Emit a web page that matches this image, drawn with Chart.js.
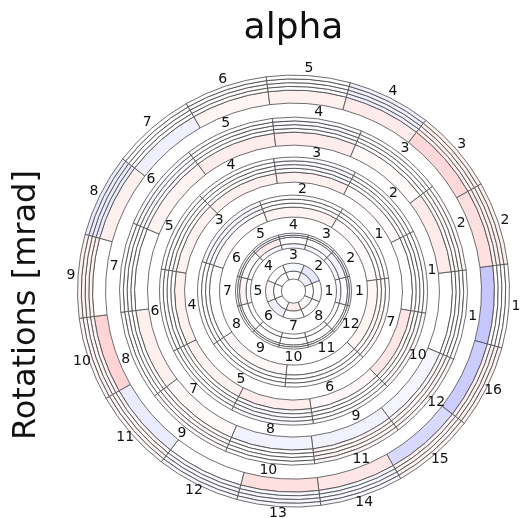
<!DOCTYPE html>
<html>
<head>
<meta charset="utf-8">
<script src="https://cdn.jsdelivr.net/npm/chart.js@4/dist/chart.umd.min.js"></script>
<style>
  html, body { margin: 0; padding: 0; background: #fff; }
</style>
</head>
<body>
<canvas id="chart" width="527" height="518"></canvas>
<script>
// Rotation residuals per module, in mrad, listed by sector number (1..n).
// Disks run from the outermost (F) to the innermost (A).
const F_band = [-0.22, 0.12, 0.15, 0.08, 0.06, 0.04, -0.06, 0.06, 0.0, 0.17, -0.08, 0.0, 0.12, 0.10, -0.15, -0.20];
const F_thin = [0.0, 0.06, 0.06, -0.06, 0.0, 0.01, 0.0, -0.08, 0.05, 0.03, 0.03, -0.03, -0.03, -0.03, 0.04, 0.05];
const E_band = [0.0, 0.08, 0.02, 0.07, 0.07, 0.05, 0.0, 0.06, 0.02, -0.05, -0.05, -0.04];
const E_thin = [0.0, 0.02, 0.0, -0.02, 0.0, -0.02, 0.0, 0.0, 0.02, 0.0, 0.03, 0.03];
const D_band = [0.0, 0.02, 0.06, 0.06, 0.05, 0.06, 0.05, 0.07, 0.03, 0.10];
const D_thin = [0.0, 0.0, -0.02, 0.0, 0.0, 0.0, 0.0, -0.02, 0.0, 0.02];
const C_band = [0.02, 0.05, 0.02, 0.0, 0.03, 0.0, 0.04];
const C_thin = [0.0, 0.0, -0.03, 0.0, 0.0, 0.0, 0.02];
const B_band = [0.0, -0.04, 0.0, 0.0, 0.08, 0.0, 0.05, 0.0, 0.0, 0.0, 0.0, 0.0];
const B_thin = [-0.03, -0.04, -0.03, -0.03, -0.03, -0.02, 0.0, 0.0, 0.0, 0.0, 0.0, 0.0];
const A_outer = [0.0, -0.10, -0.03, 0.0, 0.03, -0.06, 0.0, 0.0];
const A_inner = [0.0, -0.06, 0.0, 0.0, 0.0, 0.0, 0.08, 0.0];

// Sector numbers printed around each disk.
const F_labels = ['1','2','3','4','5','6','7','8','9','10','11','12','13','14','15','16'];
const E_labels = ['1','2','3','4','5','6','7','8','9','10','11','12'];
const D_labels = ['1','2','3','4','5','6','7','8','9','10'];
const C_labels = ['1','2','3','4','5','6','7'];
const B_labels = ['1','2','3','4','5','6','7','8','9','10','11','12'];
const A_labels = ['1','2','3','4','5','6','7','8'];

const COLOR_LIMIT = 1.0; // mrad at full saturation of the blue-white-red scale

// Angle (deg, counter-clockwise from 3 o'clock) of the centre of sector 1.
const PHASE = { F: -4, E: -8, D: 8.5, C: 33.5, B: 0, A: 0 };

function bwr(v) {
  const t = Math.max(-1, Math.min(1, v / COLOR_LIMIT));
  let r, g, b;
  if (t < 0) { r = g = 255 * (1 + t); b = 255; }
  else { r = 255; g = b = 255 * (1 - t); }
  return 'rgb(' + Math.round(r) + ',' + Math.round(g) + ',' + Math.round(b) + ')';
}

// Chart.js lays arcs clockwise; sectors are numbered counter-clockwise.
function ccw(arr) { return [arr[0]].concat(arr.slice(1).reverse()); }

function startAngle(n, phase) { return 90 - phase - 180 / n; }

const OUTER_R = 230, HOLE_R = 12;
const datasets = [];
let currentR = OUTER_R;

function addRing(values, innerR, phase) {
  datasets.push({
    data: values.map(() => 1),
    backgroundColor: ccw(values).map(bwr),
    borderColor: '#4a4a4a',
    borderWidth: 0.8,
    weight: currentR - innerR,
    rotation: startAngle(values.length, phase),
    clip: false
  });
  currentR = innerR;
}
function addThin(values, count, innerR, phase) {
  const step = (currentR - innerR) / count;
  const start = currentR;
  for (let i = 1; i <= count; i++) addRing(values, start - step * i, phase);
}
function addLabels(labels, innerR, phase) {
  datasets.push({
    data: labels.map(() => 1),
    backgroundColor: 'rgba(0,0,0,0)',
    borderWidth: 0,
    weight: currentR - innerR,
    rotation: startAngle(labels.length, phase),
    sectorLabels: ccw(labels),
    clip: false
  });
  currentR = innerR;
}

addLabels(F_labels, 216, PHASE.F);
addThin(F_thin, 4, 201, PHASE.F);
addRing(F_band, 188, PHASE.F);
addLabels(E_labels, 174, PHASE.E);
addThin(E_thin, 4, 159, PHASE.E);
addRing(E_band, 146, PHASE.E);
addLabels(D_labels, 134, PHASE.D);
addThin(D_thin, 4, 119, PHASE.D);
addRing(D_band, 109, PHASE.D);
addLabels(C_labels, 96, PHASE.C);
addThin(C_thin, 3, 84, PHASE.C);
addRing(C_band, 74, PHASE.C);
addLabels(B_labels, 58, PHASE.B);
addThin(B_thin, 2, 54, PHASE.B);
addRing(B_band, 47.5, PHASE.B);
addRing(B_thin, 43, PHASE.B);
addLabels(A_labels, 28, PHASE.A);
addRing(A_outer, 20, PHASE.A);
addRing(A_inner, HOLE_R, PHASE.A);

const sectorLabelPlugin = {
  id: 'sectorLabels',
  afterDatasetsDraw(chart) {
    const ctx = chart.ctx;
    ctx.save();
    ctx.font = '14px "DejaVu Sans"';
    ctx.fillStyle = '#111';
    ctx.textAlign = 'center';
    ctx.textBaseline = 'middle';
    chart.data.datasets.forEach((ds, i) => {
      if (!ds.sectorLabels) return;
      chart.getDatasetMeta(i).data.forEach((arc, j) => {
        const p = arc.tooltipPosition();
        ctx.fillText(ds.sectorLabels[j], p.x, p.y);
      });
    });
    ctx.restore();
  }
};

new Chart(document.getElementById('chart'), {
  type: 'doughnut',
  data: { datasets },
  plugins: [sectorLabelPlugin],
  options: {
    responsive: false,
    animation: false,
    events: [],
    radius: OUTER_R,
    cutout: (HOLE_R / OUTER_R * 100) + '%',
    layout: { padding: { top: 0, left: 0, right: 0, bottom: 78 } },
    plugins: {
      legend: { display: false },
      tooltip: { enabled: false },
      title: {
        display: true,
        text: 'alpha',
        position: 'top',
        fullSize: false,
        color: '#111',
        font: { family: 'DejaVu Sans', size: 36, weight: 'normal', lineHeight: 1.2 },
        padding: { top: 7, bottom: 92 }
      },
      subtitle: {
        display: true,
        text: 'Rotations [mrad]',
        position: 'left',
        align: 'start',
        fullSize: true,
        color: '#111',
        font: { family: 'DejaVu Sans', size: 32, weight: 'normal', lineHeight: 1.2 },
        padding: { top: 7, bottom: 14.6 }
      }
    }
  }
});
</script>
</body>
</html>
